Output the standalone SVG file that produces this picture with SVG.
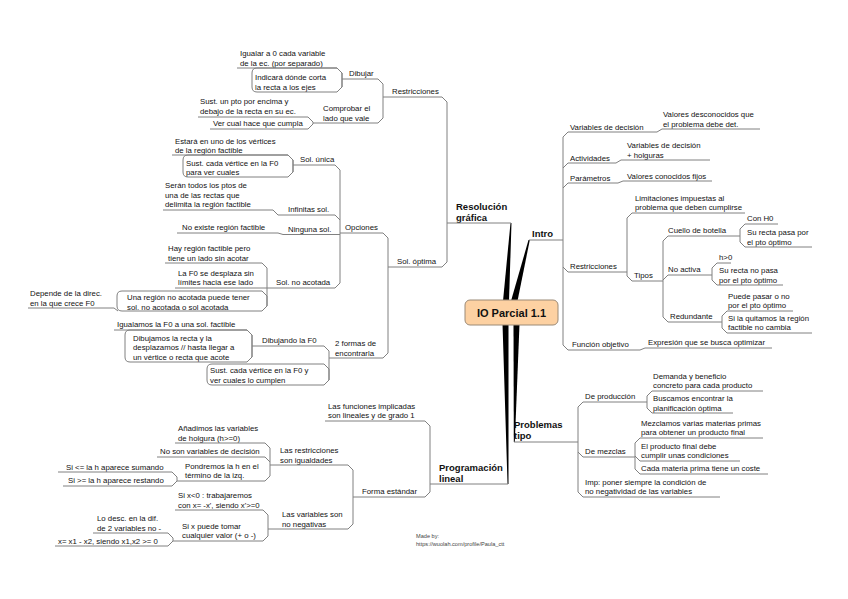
<svg xmlns="http://www.w3.org/2000/svg" width="848" height="599" viewBox="0 0 848 599">
<style>
text{font-family:"Liberation Sans",Arial,sans-serif;font-size:7.8px;fill:#111}
.b{font-weight:bold;font-size:9.5px}
.c{font-weight:bold;font-size:11px}
.s{font-size:5.6px;fill:#444}
.u{fill:none;stroke:#808080;stroke-width:1}
.k{fill:none;stroke:#808080;stroke-width:1;stroke-linejoin:miter}
.x{fill:none;stroke:#808080;stroke-width:1}
.br{fill:#000}
</style>
<rect width="848" height="599" fill="#fff"/>
<g id="connectors">
<polygon class="br" points="510.5,223 511.5,223 509,301 503,301"/>
<polygon class="br" points="528.5,240 529.8,240 517.5,301 511,301"/>
<polygon class="br" points="502.5,324 508.5,324 508.5,484 507.5,484"/>
<polygon class="br" points="513.5,324 519.5,324 514.8,442 513.8,442"/>
<path class="k" d="M442,97 L447,102 V262 L442,267"/>
<path class="k" d="M378,79 L383,84 V118 L378,123"/>
<path class="k" d="M337,68 L342,73 V87 L337,92"/>
<path class="k" d="M308,117 L313,122 V124 L308,129"/>
<path class="k" d="M383,233 L388,238 V353 L383,358"/>
<path class="k" d="M335,165 L340,170 V283 L335,288"/>
<path class="k" d="M288,155 L293,160 V172 L288,177"/>
<path class="k" d="M273,210 L278,215"/>
<path class="k" d="M335,215 L340,220"/>
<path class="k" d="M278,233 L283,234.5"/>
<path class="k" d="M262,263 L267,268 V306 L262,311"/>
<path class="k" d="M114,308 L118,311"/>
<path class="k" d="M324,346 L329,351 V380 L324,385"/>
<path class="k" d="M247,330 L252,335 V357 L247,362"/>
<path class="k" d="M425,421 L430,426 V492 L425,497"/>
<path class="k" d="M348,465 L353,470 V524 L348,529"/>
<path class="k" d="M265,443 L270,448 V476 L265,481"/>
<path class="k" d="M265,457 L270,462"/>
<path class="k" d="M172,472 L177,477 V481 L172,486"/>
<path class="k" d="M263,510 L268,515 V536 L263,541"/>
<path class="k" d="M168,533 L173,538 V541 L168,546"/>
<path class="k" d="M568,132 L563,137 V345 L568,350"/>
<path class="k" d="M568,163 L563,168"/>
<path class="k" d="M568,183 L563,188"/>
<path class="k" d="M568,272 L563,267"/>
<path class="k" d="M657,132 L662,129"/>
<path class="k" d="M616,163 L621,160"/>
<path class="k" d="M618,183 L623,181"/>
<path class="k" d="M640,350 L645,348"/>
<path class="k" d="M632,213 L627,218 V276 L632,281"/>
<path class="k" d="M668,236 L663,241 V317 L668,322"/>
<path class="k" d="M668,275 L663,280"/>
<path class="k" d="M745,224 L740,229 V242 L745,247"/>
<path class="k" d="M717,263 L712,268 V280 L717,285"/>
<path class="k" d="M727,311 L722,316 V328 L727,333"/>
<path class="k" d="M583,402 L578,407 V492 L583,497"/>
<path class="k" d="M583,457 L578,452"/>
<path class="k" d="M652,391 L647,396 V408 L652,413"/>
<path class="k" d="M640,438 L635,443 V469 L640,474"/>
<path class="k" d="M640,461 L635,456"/>
</g>
<g id="central">
<rect x="465" y="300" width="93" height="25" rx="5" fill="#fdd1a2" stroke="#9b8a77" stroke-width="1"/>
<text class="c" x="511.5" y="316.5" text-anchor="middle">IO Parcial 1.1</text>
</g>
<g id="resolucion">
<text class="b" x="456" y="210">Resolución<tspan x="456" dy="11">gráfica</tspan></text>
<path class="u" d="M447,223 H511"/>
</g>
<g id="restricciones-rg"><text x="392" y="94">Restricciones</text><path class="u" d="M383,97 H442"/></g>
<g id="dibujar"><text x="349" y="76">Dibujar</text><path class="u" d="M342,79 H378"/></g>
<g id="igualar"><text x="240" y="56">Igualar a 0 cada variable<tspan x="240" dy="9.5">de la ec. (por separado)</tspan></text><path class="u" d="M237,68 H337"/></g>
<g id="indicara"><text x="255" y="80">Indicará dónde corta<tspan x="255" dy="9.5">la recta a los ejes</tspan></text><path class="x" d="M337,68 L342,73 V87 L337,92 H257 Q252,92 252,87 V73 Q252,68 257,68 Z"/></g>
<g id="comprobar"><text x="323" y="111">Comprobar el<tspan x="323" dy="9.5">lado que vale</tspan></text><path class="u" d="M313,123 H378"/></g>
<g id="sust-pto"><text x="200" y="104">Sust. un pto por encima y<tspan x="200" dy="9.5">debajo de la recta en su ec.</tspan></text><path class="u" d="M198,117 H308"/></g>
<g id="ver-cual"><text x="213" y="126">Ver cual hace que cumpla</text><path class="u" d="M210,129 H308"/></g>
<g id="sol-optima"><text x="397" y="264">Sol. óptima</text><path class="u" d="M388,267 H442"/></g>
<g id="opciones"><text x="345" y="230">Opciones</text><path class="u" d="M340,233 H383"/></g>
<g id="sol-unica"><text x="300" y="162">Sol. única</text><path class="u" d="M293,165 H335"/></g>
<g id="estara"><text x="175" y="143.5">Estará en uno de los vértices<tspan x="175" dy="9.5">de la región factible</tspan></text><path class="u" d="M172,155 H288"/></g>
<g id="sust-vertice-1"><text x="186" y="165.5">Sust. cada vértice en la F0<tspan x="186" dy="9.5">para ver cuales</tspan></text><path class="x" d="M288,155 L293,160 V172 L288,177 H188 Q183,177 183,172 V160 Q183,155 188,155 Z"/></g>
<g id="infinitas"><text x="288" y="212">Infinitas sol.</text><path class="u" d="M278,215 H335"/></g>
<g id="seran"><text x="165" y="188">Serán todos los ptos de<tspan x="165" dy="9.5">una de las rectas que</tspan><tspan x="165" dy="9.5">delimita la región factible</tspan></text><path class="u" d="M163,210 H273"/></g>
<g id="ninguna"><text x="288" y="231.5">Ninguna sol.</text><path class="u" d="M283,234.5 H340"/></g>
<g id="no-existe"><text x="182" y="230">No existe región factible</text><path class="u" d="M177,233 H278"/></g>
<g id="no-acotada"><text x="276" y="285">Sol. no acotada</text><path class="u" d="M267,288 H335"/></g>
<g id="hay-region"><text x="168" y="251">Hay región factible pero<tspan x="168" dy="9.5">tiene un lado sin acotar</tspan></text><path class="u" d="M165,263 H262"/></g>
<g id="la-f0"><text x="178" y="275.5">La F0 se desplaza sin<tspan x="178" dy="9.5">límites hacia ese lado</tspan></text><path class="u" d="M175,288 H267"/></g>
<g id="una-region"><text x="127" y="300">Una región no acotada puede tener<tspan x="127" dy="9.5">sol. no acotada o sol acotada</tspan></text><path class="x" d="M262,291 L267,296 V306 L262,311 H122 Q117,311 117,306 V296 Q117,291 122,291 Z"/></g>
<g id="depende"><text x="30" y="296">Depende de la direc.<tspan x="30" dy="9.5">en la que crece F0</tspan></text><path class="u" d="M28,308 H114"/></g>
<g id="dos-formas"><text x="335" y="346">2 formas de<tspan x="335" dy="9.5">encontrarla</tspan></text><path class="u" d="M329,358 H383"/></g>
<g id="dibujando"><text x="262" y="343">Dibujando la F0</text><path class="u" d="M252,346 H324"/></g>
<g id="igualamos"><text x="117" y="327">Igualamos la F0 a una sol. factible</text><path class="u" d="M114,330 H247"/></g>
<g id="dibujamos"><text x="133" y="340.5">Dibujamos la recta y la<tspan x="133" dy="9.5">desplazamos // hasta llegar a</tspan><tspan x="133" dy="9.5">un vértice o recta que acote</tspan></text><path class="x" d="M247,330 L252,335 V357 L247,362 H130 Q125,362 125,357 V335 Q125,330 130,330 Z"/></g>
<g id="sust-vertice-2"><text x="210" y="373">Sust. cada vértice en la F0 y<tspan x="210" dy="9.5">ver cuales lo cumplen</tspan></text><path class="x" d="M324,364 L329,369 V380 L324,385 H212 Q207,385 207,380 V369 Q207,364 212,364 Z"/></g>
<g id="programacion">
<text class="b" x="439" y="471">Programación<tspan x="439" dy="11">lineal</tspan></text>
<path class="u" d="M430,484 H508"/>
</g>
<g id="funciones"><text x="328" y="408.5">Las funciones implicadas<tspan x="328" dy="9.5">son lineales y de grado 1</tspan></text><path class="u" d="M325,421 H425"/></g>
<g id="forma-estandar"><text x="362" y="494">Forma estándar</text><path class="u" d="M353,497 H425"/></g>
<g id="restr-igualdades"><text x="280" y="453">Las restricciones<tspan x="280" dy="9.5">son igualdades</tspan></text><path class="u" d="M270,465 H348"/></g>
<g id="anadimos"><text x="178" y="431">Añadimos las variables<tspan x="178" dy="9.5">de holgura (h&gt;=0)</tspan></text><path class="u" d="M175,443 H265"/></g>
<g id="no-son"><text x="160" y="454">No son variables de decisión</text><path class="u" d="M157,457 H265"/></g>
<g id="pondremos"><text x="185" y="468.5">Pondremos la h en el<tspan x="185" dy="9.5">término de la izq.</tspan></text><path class="u" d="M177,481 H265"/></g>
<g id="si-menor"><text x="66" y="469.5">Si &lt;= la h aparece sumando</text><path class="u" d="M58,472 H172"/></g>
<g id="si-mayor"><text x="68" y="483">Si &gt;= la h aparece restando</text><path class="u" d="M63,486 H172"/></g>
<g id="no-negativas"><text x="282" y="517">Las variables son<tspan x="282" dy="9.5">no negativas</tspan></text><path class="u" d="M268,529 H348"/></g>
<g id="si-x-neg"><text x="178" y="498">Si x&lt;0 : trabajaremos<tspan x="178" dy="9.5">con x= -x', siendo x'&gt;=0</tspan></text><path class="u" d="M175,510 H263"/></g>
<g id="si-x-puede"><text x="182" y="528.5">Si x puede tomar<tspan x="182" dy="9.5">cualquier valor (+ o -)</tspan></text><path class="u" d="M173,541 H263"/></g>
<g id="lo-desc"><text x="97" y="521">Lo desc. en la dif.<tspan x="97" dy="9.5">de 2 variables no -</tspan></text><path class="u" d="M93,533 H168"/></g>
<g id="x-igual"><text x="58" y="543.5">x= x1 - x2, siendo x1,x2 &gt;= 0</text><path class="u" d="M55,546 H168"/></g>
<g id="intro">
<text class="b" x="532" y="237">Intro</text>
<path class="u" d="M529,240 H563"/>
</g>
<g id="var-decision"><text x="570" y="129.5">Variables de decisión</text><path class="u" d="M568,132 H657"/></g>
<g id="valores-desc"><text x="663" y="117">Valores desconocidos que<tspan x="663" dy="9.5">el problema debe det.</tspan></text><path class="u" d="M662,129 H760"/></g>
<g id="actividades"><text x="570" y="160.5">Actividades</text><path class="u" d="M568,163 H616"/></g>
<g id="var-holguras"><text x="627" y="148">Variables de decisión<tspan x="627" dy="9.5">+ holguras</tspan></text><path class="u" d="M621,160 H710"/></g>
<g id="parametros"><text x="570" y="180.5">Parámetros</text><path class="u" d="M568,183 H618"/></g>
<g id="valores-fijos"><text x="627" y="178.5">Valores conocidos fijos</text><path class="u" d="M623,181 H712"/></g>
<g id="restricciones-intro"><text x="570" y="269">Restricciones</text><path class="u" d="M568,272 H627"/></g>
<g id="limitaciones"><text x="635" y="200.5">Limitaciones impuestas al<tspan x="635" dy="9.5">problema que deben cumplirse</tspan></text><path class="u" d="M632,213 H745"/></g>
<g id="tipos"><text x="634" y="278">Tipos</text><path class="u" d="M632,281 H663"/></g>
<g id="cuello"><text x="668" y="233">Cuello de botella</text><path class="u" d="M668,236 H740"/></g>
<g id="con-h0"><text x="747" y="221">Con H0</text><path class="u" d="M745,224 H778"/></g>
<g id="su-recta-pasa"><text x="747" y="235">Su recta pasa por<tspan x="747" dy="9.5">el pto óptimo</tspan></text><path class="u" d="M745,247 H812"/></g>
<g id="no-activa"><text x="668" y="272">No activa</text><path class="u" d="M668,275 H712"/></g>
<g id="h-mayor"><text x="719" y="260">h&gt;0</text><path class="u" d="M717,263 H731"/></g>
<g id="su-recta-no"><text x="719" y="273">Su recta no pasa<tspan x="719" dy="9.5">por el pto óptimo</tspan></text><path class="u" d="M717,285 H783"/></g>
<g id="redundante"><text x="670" y="319">Redundante</text><path class="u" d="M668,322 H722"/></g>
<g id="puede-pasar"><text x="728" y="298.5">Puede pasar o no<tspan x="728" dy="9.5">por el pto óptimo</tspan></text><path class="u" d="M727,311 H793"/></g>
<g id="si-quitamos"><text x="728" y="320.5">Si la quitamos la región<tspan x="728" dy="9.5">factible no cambia</tspan></text><path class="u" d="M727,333 H812"/></g>
<g id="funcion-objetivo"><text x="572" y="347">Función objetivo</text><path class="u" d="M568,350 H640"/></g>
<g id="expresion"><text x="648" y="345">Expresión que se busca optimizar</text><path class="u" d="M645,348 H772"/></g>
<g id="problemas">
<text class="b" x="514" y="428">Problemas<tspan x="514" dy="11">tipo</tspan></text>
<path class="u" d="M514,442 H578"/>
</g>
<g id="de-produccion"><text x="585" y="399">De producción</text><path class="u" d="M583,402 H647"/></g>
<g id="demanda"><text x="653" y="378.5">Demanda y beneficio<tspan x="653" dy="9.5">concreto para cada producto</tspan></text><path class="u" d="M652,391 H763"/></g>
<g id="buscamos"><text x="653" y="401">Buscamos encontrar la<tspan x="653" dy="9.5">planificación óptima</tspan></text><path class="u" d="M652,413 H733"/></g>
<g id="de-mezclas"><text x="585" y="454">De mezclas</text><path class="u" d="M583,457 H635"/></g>
<g id="mezclamos"><text x="641" y="425.5">Mezclamos varias materias primas<tspan x="641" dy="9.5">para obtener un producto final</tspan></text><path class="u" d="M640,438 H763"/></g>
<g id="el-producto"><text x="641" y="448.5">El producto final debe<tspan x="641" dy="9.5">cumplir unas condiciones</tspan></text><path class="u" d="M640,461 H740"/></g>
<g id="cada-materia"><text x="641" y="471">Cada materia prima tiene un coste</text><path class="u" d="M640,474 H768"/></g>
<g id="imp"><text x="585" y="484.5">Imp: poner siempre la condición de<tspan x="585" dy="9.5">no negatividad de las variables</tspan></text><path class="u" d="M583,497 H720"/></g>
<g id="credit"><text class="s" x="416" y="538">Made by:<tspan x="416" dy="8">https://wuolah.com/profile/Paula_ctt</tspan></text></g>
</svg>
